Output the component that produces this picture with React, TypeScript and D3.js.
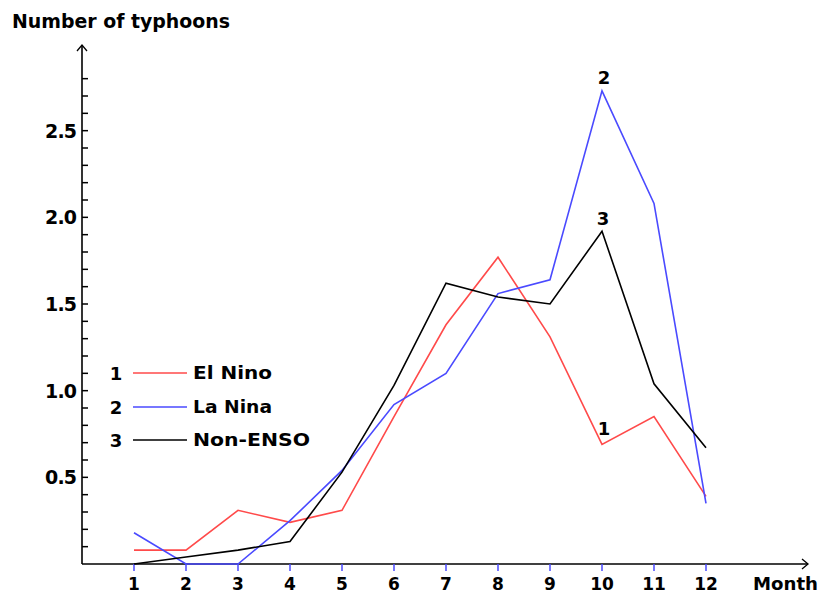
import React from "react";
import * as d3 from "d3";

const months = [1, 2, 3, 4, 5, 6, 7, 8, 9, 10, 11, 12];
const elNino = [0.08, 0.08, 0.31, 0.24, 0.31, 0.85, 1.38, 1.77, 1.31, 0.69, 0.85, 0.39];
const laNina = [0.18, 0.0, 0.0, 0.25, 0.54, 0.92, 1.1, 1.56, 1.64, 2.73, 2.08, 0.35];
const nonEnso = [0.0, 0.04, 0.08, 0.13, 0.53, 1.03, 1.62, 1.54, 1.5, 1.92, 1.04, 0.67];
const yTickLabels = [0.5, 1.0, 1.5, 2.0, 2.5];
const seriesNames = ["El Nino", "La Nina", "Non-ENSO"];
const seriesColors = ["#ff4a4a", "#4a4aff", "#000000"];
const seriesData = [elNino, laNina, nonEnso];

const W = 820;
const H = 595;

export default function App() {
  const x = d3.scaleLinear().domain([0, 12]).range([82, 706]);
  const y = d3.scaleLinear().domain([0, 3]).range([564, 44]);
  const minorTicks = d3.range(1, 29).map((i) => i / 10);
  const font = "'DejaVu Sans', Verdana, sans-serif";
  const line = d3
    .line<number>()
    .x((_, i) => x(months[i]))
    .y((d) => y(d));

  const x0 = x(0);
  const y0 = y(0);
  const xEnd = 808;
  const yTop = 45;
  const peakIdx = 9;
  const legendTextWidths = [79, 79, 117];

  return (
    <svg
      width={W}
      height={H}
      style={{ position: "absolute", left: 0, top: 0, background: "#fff" }}
      fontFamily={font}
      fontWeight="bold"
    >
      <rect x={0} y={0} width={W} height={H} fill="#fff" />
      {/* Title */}
      <text x={12} y={28} fontSize={19} textLength={218} lengthAdjust="spacingAndGlyphs">
        Number of typhoons
      </text>

      {/* Y axis */}
      <line x1={x0} y1={y0} x2={x0} y2={yTop} stroke="#000" strokeWidth={1.6} />
      <polyline
        points={`${x0 - 5},${yTop + 6} ${x0},${yTop} ${x0 + 5},${yTop + 6}`}
        fill="none"
        stroke="#000"
        strokeWidth={1.3}
      />
      {minorTicks.map((t) => (
        <line key={t} x1={x0} x2={x0 + 6} y1={y(t)} y2={y(t)} stroke="#000" strokeWidth={1.5} />
      ))}
      {yTickLabels.map((t) => (
        <text
          key={t}
          x={77}
          y={y(t) + 7}
          fontSize={19}
          textAnchor="end"
          textLength={32}
          lengthAdjust="spacing"
        >
          {t.toFixed(1)}
        </text>
      ))}

      {/* X axis */}
      <line x1={x0} y1={y0} x2={xEnd} y2={y0} stroke="#000" strokeWidth={1.6} />
      <polyline
        points={`${xEnd - 6},${y0 - 5} ${xEnd},${y0} ${xEnd - 6},${y0 + 5}`}
        fill="none"
        stroke="#000"
        strokeWidth={1.3}
      />
      {months.map((m) => (
        <g key={m}>
          <line x1={x(m)} x2={x(m)} y1={y0} y2={y0 + 7} stroke="#4a4aff" strokeWidth={1.5} />
          <text x={x(m)} y={590} fontSize={17} textAnchor="middle">
            {m}
          </text>
        </g>
      ))}
      <text x={753} y={590} fontSize={17} textLength={65} lengthAdjust="spacingAndGlyphs">
        Month
      </text>

      {/* Series */}
      {seriesData.map((s, i) => (
        <path key={i} d={line(s) || ""} fill="none" stroke={seriesColors[i]} strokeWidth={1.6} strokeLinejoin="miter" />
      ))}

      {/* Peak labels */}
      <text x={x(months[peakIdx]) + 2} y={y(elNino[peakIdx]) - 9} fontSize={18} textAnchor="middle">1</text>
      <text x={x(months[peakIdx]) + 2} y={y(laNina[peakIdx]) - 7} fontSize={18} textAnchor="middle">2</text>
      <text x={x(months[peakIdx]) + 1} y={y(nonEnso[peakIdx]) - 6} fontSize={18} textAnchor="middle">3</text>

      {/* Legend */}
      {seriesNames.map((n, i) => {
        const ly = [373, 407, 440][i];
        return (
          <g key={n}>
            <text x={116} y={ly + 7} fontSize={18} textAnchor="middle">{i + 1}</text>
            <line x1={133} x2={187} y1={ly} y2={ly} stroke={seriesColors[i]} strokeWidth={1.6} />
            <text x={193} y={ly + 6} fontSize={17} textLength={legendTextWidths[i]} lengthAdjust="spacingAndGlyphs">
              {n}
            </text>
          </g>
        );
      })}
    </svg>
  );
}
